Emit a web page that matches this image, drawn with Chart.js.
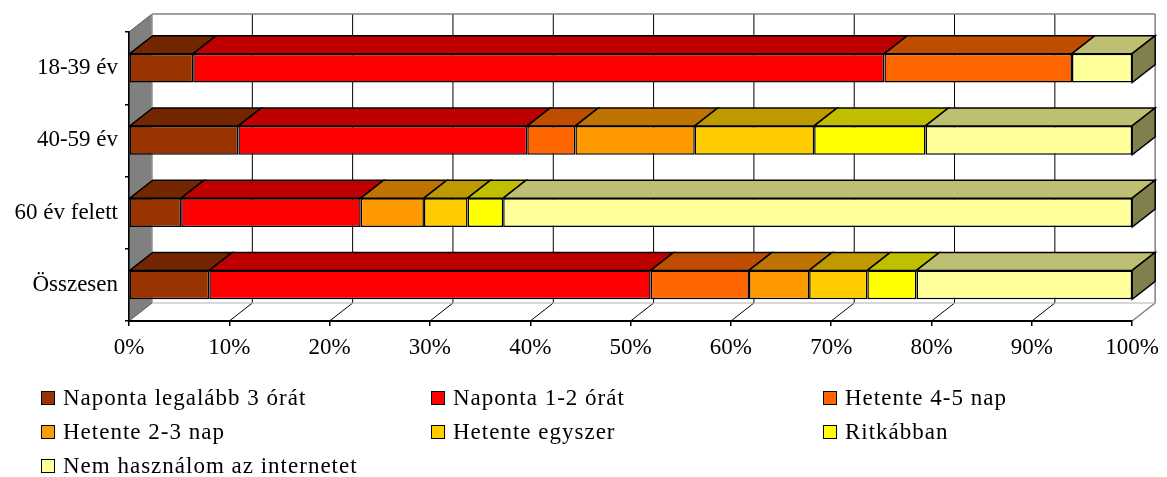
<!DOCTYPE html>
<html>
<head>
<meta charset="utf-8">
<script src="https://cdn.jsdelivr.net/npm/chart.js@4.4.0/dist/chart.umd.min.js"></script>
<style>
  body { margin: 0; background: #fff; }
  #wrap { position: relative; width: 1167px; height: 477px; }
  #chart { position: absolute; left: 0; top: 0; }
  .lg { position: absolute; font: 23px 'Liberation Serif', 'Times New Roman', serif; letter-spacing: 1px; white-space: nowrap; line-height: 23px; color: #000; }
  .box { position: absolute; width: 12px; height: 12px; border: 1.5px solid #000; }
</style>
</head>
<body>
<div id="wrap">
  <canvas id="chart" width="1167" height="477"></canvas>
  <div id="legend"></div>
</div>
<script>
// Internethasználat gyakorisága korcsoportonként (100%-os halmozott sáv)

const categories = ["18-39 év", "40-59 év", "60 év felett", "Összesen"];

const seriesLabels = [
  "Naponta legalább 3 órát",
  "Naponta 1-2 órát",
  "Hetente 4-5 nap",
  "Hetente 2-3 nap",
  "Hetente egyszer",
  "Ritkábban",
  "Nem használom az internetet",
];

// százalékok, kategóriák sorrendjében
const legalabb3ora = [6.4, 10.9, 5.2, 8.0];
const naponta12ora = [68.9, 28.8, 17.9, 44.0];
const hetente45nap = [18.7, 4.8, 0, 9.8];
const hetente23nap = [0, 11.9, 6.3, 6.0];
const hetenteEgyszer = [0, 11.9, 4.35, 5.8];
const ritkabban = [0, 11.1, 3.55, 4.9];
const nemHasznalja = [6.0, 20.6, 62.7, 21.5];

const seriesValues = [legalabb3ora, naponta12ora, hetente45nap, hetente23nap, hetenteEgyszer, ritkabban, nemHasznalja];
const seriesColors = ["#993300", "#FF0000", "#FF6600", "#FF9900", "#FFCC00", "#FFFF00", "#FFFF99"];

// 3D mélység (pixel)
const DX = 23;
const DY = 18;

function shade(hex, f) {
  const n = parseInt(hex.slice(1), 16);
  const r = Math.round(((n >> 16) & 255) * f);
  const g = Math.round(((n >> 8) & 255) * f);
  const b = Math.round((n & 255) * f);
  return `rgb(${r},${g},${b})`;
}

function poly(ctx, pts, fill, stroke) {
  ctx.beginPath();
  ctx.moveTo(pts[0][0], pts[0][1]);
  for (let i = 1; i < pts.length; i++) ctx.lineTo(pts[i][0], pts[i][1]);
  ctx.closePath();
  if (fill) { ctx.fillStyle = fill; ctx.fill(); }
  if (stroke) { ctx.strokeStyle = stroke; ctx.stroke(); }
}

function line(ctx, x1, y1, x2, y2, color, w) {
  ctx.beginPath();
  ctx.moveTo(x1, y1);
  ctx.lineTo(x2, y2);
  ctx.strokeStyle = color;
  ctx.lineWidth = w;
  ctx.stroke();
}

// hátfal, oldalfal, padló rácsvonalai
const keret3d = {
  id: "keret3d",
  beforeDraw(chart) {
    const { ctx, chartArea: a } = chart;
    const x = chart.scales.x;
    ctx.save();
    ctx.lineWidth = 1;
    poly(ctx, [[a.left, a.top], [a.left + DX, a.top - DY], [a.left + DX, a.bottom - DY], [a.left, a.bottom]], "#808080", "#5a5a5a");

    x.ticks.forEach((t) => {
      const px = x.getPixelForValue(t.value);
      if (t.value === 0) return;
      const c = t.value === 100 ? "#808080" : "#000";
      line(ctx, px + DX, a.top - DY, px + DX, a.bottom - DY, c, t.value === 100 ? 1.5 : 1);
      line(ctx, px, a.bottom, px + DX, a.bottom - DY, c, t.value === 100 ? 1.5 : 1);
    });
    line(ctx, a.left + DX, a.top - DY, a.right + DX, a.top - DY, "#808080", 1.5);
    line(ctx, a.left + DX, a.bottom - DY, a.right + DX, a.bottom - DY, "#b0b0b0", 1);
    line(ctx, a.left + DX, a.top - DY, a.left + DX, a.bottom - DY, "#b0b0b0", 1);
    ctx.restore();
  },
  afterDatasetsDraw(chart) {
    const ctx = chart.ctx;
    ctx.save();
    ctx.lineWidth = 1.5;
    ctx.lineJoin = "miter";
    categories.forEach((_, i) => {
      let last = null;
      chart.data.datasets.forEach((ds, d) => {
        if (!ds.data[i]) return;
        const bar = chart.getDatasetMeta(d).data[i];
        const { x, y, base, height } = bar.getProps(["x", "y", "base", "height"], true);
        const top = y - height / 2;
        poly(ctx, [[base, top], [base + DX, top - DY], [x + DX, top - DY], [x, top]], shade(ds.backgroundColor, 0.75), "#000");
        last = { x, top, bottom: y + height / 2, color: ds.backgroundColor };
      });
      if (last) {
        poly(ctx, [[last.x, last.top], [last.x + DX, last.top - DY], [last.x + DX, last.bottom - DY], [last.x, last.bottom]], shade(last.color, 0.5), "#000");
      }
    });
    ctx.restore();
  },
};

Chart.defaults.font.family = "'Liberation Serif', 'Times New Roman', serif";
Chart.defaults.color = "#000";

new Chart(document.getElementById("chart"), {
  type: "bar",
  data: {
    labels: categories,
    datasets: seriesValues.map((vals, k) => ({
      label: seriesLabels[k],
      data: vals,
      backgroundColor: seriesColors[k],
      borderColor: "#000",
      borderWidth: 1.5,
      borderSkipped: false,
      categoryPercentage: 1,
      barPercentage: 0.4,
    })),
  },
  options: {
    indexAxis: "y",
    responsive: false,
    animation: false,
    devicePixelRatio: 1,
    layout: { padding: { top: 32, right: 32, left: 0, bottom: 0 } },
    plugins: { legend: { display: false }, tooltip: { enabled: false } },
    scales: {
      x: {
        stacked: true,
        min: 0,
        max: 100,
        ticks: { stepSize: 10, callback: (v) => v + "%", padding: 8, font: { size: 23 }, maxRotation: 0, autoSkip: false },
        grid: { drawOnChartArea: false, drawTicks: true, tickLength: 5, color: "#000", lineWidth: 1.5 },
        border: { color: "#000", width: 2 },
        afterFit: (s) => { s.height = 156; },
      },
      y: {
        stacked: true,
        ticks: { padding: 7, font: { size: 23 } },
        grid: { drawOnChartArea: false, tickLength: 4, color: "#000", lineWidth: 1.5, offset: true },
        border: { color: "#000", width: 1.5 },
        afterFit: (s) => { s.width = 129; },
      },
    },
  },
  plugins: [keret3d],
});

// jelmagyarázat három oszlopban
const legendCols = [41, 431, 823];
const legendRows = [398, 432, 466];
const legendEl = document.getElementById("legend");
seriesLabels.forEach((label, k) => {
  const bx = legendCols[k % 3];
  const cy = legendRows[Math.floor(k / 3)];
  const box = document.createElement("div");
  box.className = "box";
  box.style.left = bx + "px";
  box.style.top = (cy - 7.5) + "px";
  box.style.background = seriesColors[k];
  legendEl.appendChild(box);
  const txt = document.createElement("div");
  txt.className = "lg";
  txt.style.left = (bx + 22) + "px";
  txt.style.top = (cy - 12) + "px";
  txt.textContent = label;
  legendEl.appendChild(txt);
});
</script>
</body>
</html>
